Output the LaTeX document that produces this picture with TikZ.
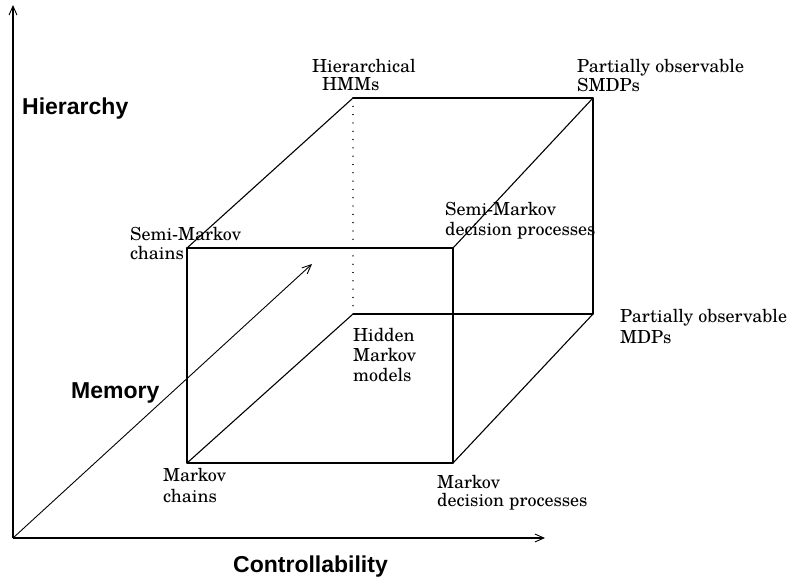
\documentclass[tikz,border=0pt]{standalone}
\usepackage{fontspec}
\setmainfont{texgyreschola}[Extension=.otf,UprightFont=*-regular,BoldFont=*-bold]
\newfontfamily\axisfont{Liberation Sans}
\usetikzlibrary{arrows.meta}
\begin{document}
\begin{tikzpicture}[x=1pt,y=-1pt,
  edge/.style={line width=1.1pt,line cap=round,line join=round},
  hidden/.style={line width=1.2pt,dash pattern=on 0.01pt off 8.3pt,line cap=round},
  axis/.style={line width=1.1pt,-{Straight Barb[length=9pt,width=8pt,line width=0.9pt]}},
  memarrow/.style={line width=0.9pt,-{Straight Barb[length=9pt,width=8pt,line width=0.9pt]}},
  lbl/.style={anchor=base west,inner sep=0pt,font=\fontsize{18}{20}\selectfont},
  axlbl/.style={anchor=base west,inner sep=0pt,font=\axisfont\bfseries\fontsize{23}{26}\selectfont}]
\useasboundingbox (0,0) rectangle (791,577);
% axes
\coordinate (O) at (13,538);
\coordinate (Ytip) at (13,5);
\coordinate (Xtip) at (545,538);
\coordinate (Mtip) at (312,264);
\draw[axis] (O) -- (Ytip);
\draw[axis] (O) -- (Xtip);
\draw[memarrow] (O) -- (Mtip);
% cube vertices
\coordinate (ftl) at (187,248);
\coordinate (ftr) at (453,248);
\coordinate (fbl) at (187,463);
\coordinate (fbr) at (453,463);
\coordinate (btl) at (353,98);
\coordinate (btr) at (593,98);
\coordinate (bbl) at (353,314);
\coordinate (bbr) at (593,314);
\draw[edge] (ftl) -- (ftr) -- (fbr) -- (fbl) -- cycle;
\draw[edge] (btl) -- (btr) -- (bbr) -- (bbl);
\draw[hidden] (btl) -- (bbl);
\draw[edge] (ftl) -- (btl);
\draw[edge] (ftr) -- (btr);
\draw[edge] (fbr) -- (bbr);
\draw[edge] (fbl) -- (bbl);
% axis labels
\node[axlbl] (hier) at (22,115) {Hierarchy};
\node[axlbl] (mem) at (71,398) {Memory};
\node[axlbl] (ctrl) at (233,572) {Controllability};
% vertex labels
\node[lbl] (hhmm) at (312,73) {\fontsize{18}{15.5}\selectfont\begin{tabular}[t]{@{}l@{}}Hierarchical\\\hspace*{10pt}HMMs\end{tabular}};
\node[lbl] (posmdp) at (577,73) {\fontsize{18}{19}\selectfont\begin{tabular}[t]{@{}l@{}}Partially observable\\SMDPs\end{tabular}};
\node[lbl] (smc) at (130,240) {\begin{tabular}[t]{@{}l@{}}Semi-Markov\\chains\end{tabular}};
\node[lbl] (smdp) at (445,215) {\begin{tabular}[t]{@{}l@{}}Semi-Markov\\decision processes\end{tabular}};
\node[lbl] (pomdp) at (620,322) {\fontsize{18}{21}\selectfont\begin{tabular}[t]{@{}l@{}}Partially observable\\MDPs\end{tabular}};
\node[lbl] (hmm) at (353,341) {\begin{tabular}[t]{@{}l@{}}Hidden\\Markov\\models\end{tabular}};
\node[lbl] (mc) at (163,481) {\fontsize{18}{21}\selectfont\begin{tabular}[t]{@{}l@{}}Markov\\chains\end{tabular}};
\node[lbl] (mdp) at (437,488) {\fontsize{18}{17}\selectfont\begin{tabular}[t]{@{}l@{}}Markov\\decision processes\end{tabular}};
\end{tikzpicture}
\end{document}
